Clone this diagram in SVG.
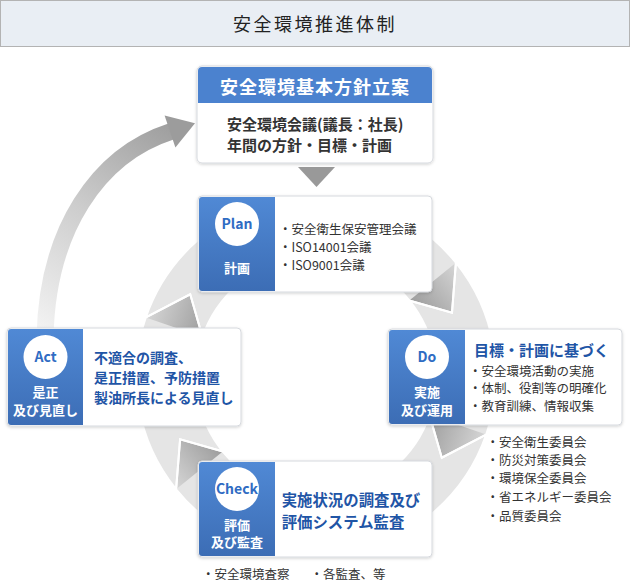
<svg xmlns="http://www.w3.org/2000/svg" width="630" height="581" viewBox="0 0 630 581">
<style>
text{font-family:"Noto Sans CJK JP","Liberation Sans",sans-serif}
.box{fill:#fff;stroke:#d6d9de;stroke-width:1;filter:url(#sh)}
.panel{fill:url(#pg)}
.c{fill:#fff}
.cl{font-size:14px;font-weight:bold;fill:#2f6cc3;text-anchor:middle}
.pl{font-size:13px;font-weight:bold;fill:#fff;text-anchor:middle}
.li{font-size:12.5px;fill:#333}
.bt{font-size:14px;font-weight:bold;fill:#1f55a6}
.seg{fill:#e5e5e5}
.segl{fill:none;stroke:#fff;stroke-width:2;stroke-linejoin:miter}
</style>
<defs>
<filter id="sh" x="-5%" y="-5%" width="110%" height="115%">
<feDropShadow dx="0" dy="1" stdDeviation="1.5" flood-color="#000" flood-opacity="0.18"/>
</filter>
<linearGradient id="pg" x1="0" y1="0" x2="0" y2="1">
<stop offset="0" stop-color="#5089d5"/>
<stop offset="1" stop-color="#3c6db5"/>
</linearGradient>
<linearGradient id="ag" gradientUnits="userSpaceOnUse" x1="45" y1="335" x2="185" y2="128">
<stop offset="0" stop-color="#f3f3f3"/>
<stop offset="0.5" stop-color="#cdcdcd"/>
<stop offset="1" stop-color="#9c9c9c"/>
</linearGradient>
<linearGradient id="g1" gradientUnits="userSpaceOnUse" x1="455.9" y1="262.7" x2="409.3" y2="300.5">
<stop offset="0" stop-color="#d6d6d6"/><stop offset="1" stop-color="#9d9d9d"/>
</linearGradient>
<linearGradient id="g2" gradientUnits="userSpaceOnUse" x1="486.2" y1="434.6" x2="429.5" y2="415.1">
<stop offset="0" stop-color="#d6d6d6"/><stop offset="1" stop-color="#9d9d9d"/>
</linearGradient>
<linearGradient id="g3" gradientUnits="userSpaceOnUse" x1="176.1" y1="489.3" x2="222.8" y2="451.5">
<stop offset="0" stop-color="#d6d6d6"/><stop offset="1" stop-color="#9d9d9d"/>
</linearGradient>
<linearGradient id="g4" gradientUnits="userSpaceOnUse" x1="145.8" y1="317.4" x2="202.5" y2="336.9">
<stop offset="0" stop-color="#d6d6d6"/><stop offset="1" stop-color="#9d9d9d"/>
</linearGradient>
<path id="s1" d="M145.8,317.4 A180,180 0 0 1 455.9,262.7 L452,312.6 L409.3,300.5 A120,120 0 0 0 202.5,336.9 L190.2,294.3 Z"/>
<path id="s2" d="M455.9,262.7 A180,180 0 0 1 486.2,434.6 L441.8,457.7 L429.5,415.1 A120,120 0 0 0 409.3,300.5 L452,312.6 Z"/>
<path id="s3" d="M486.2,434.6 A180,180 0 0 1 176.1,489.3 L180.1,439.4 L222.8,451.5 A120,120 0 0 0 429.5,415.1 L441.8,457.7 Z"/>
<path id="s4" d="M176.1,489.3 A180,180 0 0 1 145.8,317.4 L190.2,294.3 L202.5,336.9 A120,120 0 0 0 222.8,451.5 L180.1,439.4 Z"/>
</defs>

<g id="title">
<rect x="0.5" y="0.5" width="629" height="46" fill="#e9eef4" stroke="#b3b3b3"/>
<text x="315" y="31" font-size="18" letter-spacing="2.5" fill="#222" text-anchor="middle">安全環境推進体制</text>
</g>

<g id="connectors">
<g id="cycle">
<use href="#s1" class="seg"/>
<use href="#s2" class="seg"/>
<use href="#s3" class="seg"/>
<use href="#s4" class="seg"/>
<path d="M455.9,262.7 L452,312.6 L409.3,300.5 Z" fill="url(#g1)"/>
<path d="M486.2,434.6 L441.8,457.7 L429.5,415.1 Z" fill="url(#g2)"/>
<path d="M176.1,489.3 L180.1,439.4 L222.8,451.5 Z" fill="url(#g3)"/>
<path d="M145.8,317.4 L190.2,294.3 L202.5,336.9 Z" fill="url(#g4)"/>
<use href="#s1" class="segl"/>
<use href="#s2" class="segl"/>
<use href="#s3" class="segl"/>
<use href="#s4" class="segl"/>
</g>
<g id="return-arrow">
<path d="M45,338 C47,230 98,155 171,131.5" fill="none" stroke="url(#ag)" stroke-width="17"/>
<polygon points="195,123.3 164.6,115.4 175.4,147.6" fill="#9c9c9c"/>
</g>
<polygon id="down-arrow" points="298,167 335,167 316.5,187" fill="#999"/>
</g>

<g id="policy">
<rect class="box" x="197" y="66" width="236" height="97" rx="5"/>
<path d="M198,71 a4,4 0 0 1 4,-4 H428 a4,4 0 0 1 4,4 V103 H198 Z" fill="#4b82cf"/>
<text x="315" y="93.5" font-size="18" font-weight="bold" fill="#fff" text-anchor="middle" letter-spacing="1">安全環境基本方針立案</text>
<text x="227" y="130" font-size="15" font-weight="bold" fill="#333">安全環境会議(議長：社長)</text>
<text x="227" y="150.5" font-size="15" font-weight="bold" fill="#333">年間の方針・目標・計画</text>
</g>

<g id="plan">
<rect class="box" x="198" y="196" width="234" height="96" rx="4"/>
<path class="panel" d="M199,200 a3,3 0 0 1 3,-3 H275 V291 H202 a3,3 0 0 1 -3,-3 Z"/>
<circle class="c" cx="237" cy="224" r="22"/>
<text class="cl" x="237" y="229">Plan</text>
<text class="pl" x="237" y="273">計画</text>
<text class="li" x="279" y="234">・安全衛生保安管理会議</text>
<text class="li" x="279" y="251.5">・ISO14001会議</text>
<text class="li" x="279" y="269.5">・ISO9001会議</text>
</g>

<g id="do">
<rect class="box" x="388" y="329" width="234" height="96" rx="4"/>
<path class="panel" d="M389,333 a3,3 0 0 1 3,-3 H465 V424 H392 a3,3 0 0 1 -3,-3 Z"/>
<circle class="c" cx="427" cy="357" r="22"/>
<text class="cl" x="427" y="362">Do</text>
<text class="pl" x="427" y="396.5">実施</text>
<text class="pl" x="427" y="414.5">及び運用</text>
<text x="474" y="356" font-size="15" font-weight="bold" fill="#1f55a6">目標・計画に基づく</text>
<text class="li" x="469" y="375.8">・安全環境活動の実施</text>
<text class="li" x="469" y="393">・体制、役割等の明確化</text>
<text class="li" x="469" y="410.8">・教育訓練、情報収集</text>
</g>

<g id="do-committees">
<text class="li" x="486.5" y="446.5">・安全衛生委員会</text>
<text class="li" x="486.5" y="464.8">・防災対策委員会</text>
<text class="li" x="486.5" y="483">・環境保全委員会</text>
<text class="li" x="486.5" y="502">・省エネルギー委員会</text>
<text class="li" x="486.5" y="520.5">・品質委員会</text>
</g>

<g id="check">
<rect class="box" x="198" y="461" width="234" height="96" rx="4"/>
<path class="panel" d="M199,465 a3,3 0 0 1 3,-3 H275 V556 H202 a3,3 0 0 1 -3,-3 Z"/>
<circle class="c" cx="237" cy="489" r="22"/>
<text class="cl" x="237" y="494">Check</text>
<text class="pl" x="237" y="529.5">評価</text>
<text class="pl" x="237" y="547">及び監査</text>
<text x="281.7" y="505.5" font-size="15.4" font-weight="bold" fill="#1f55a6">実施状況の調査及び</text>
<text x="281.7" y="527.5" font-size="15.4" font-weight="bold" fill="#1f55a6">評価システム監査</text>
</g>

<g id="check-notes">
<text class="li" x="202" y="578.5">・安全環境査察</text>
<text class="li" x="310.5" y="578.5">・各監査、等</text>
</g>

<g id="act">
<rect class="box" x="7" y="328" width="234" height="98" rx="4"/>
<path class="panel" d="M8,332 a3,3 0 0 1 3,-3 H83 V425 H11 a3,3 0 0 1 -3,-3 Z"/>
<circle class="c" cx="45.5" cy="357" r="22"/>
<text class="cl" x="45.5" y="361.5">Act</text>
<text class="pl" x="45.5" y="396.5">是正</text>
<text class="pl" x="45.5" y="414.5">及び見直し</text>
<text class="bt" x="94" y="362.5">不適合の調査、</text>
<text class="bt" x="94" y="382.5">是正措置、予防措置</text>
<text class="bt" x="94" y="402.5">製油所長による見直し</text>
</g>
</svg>
